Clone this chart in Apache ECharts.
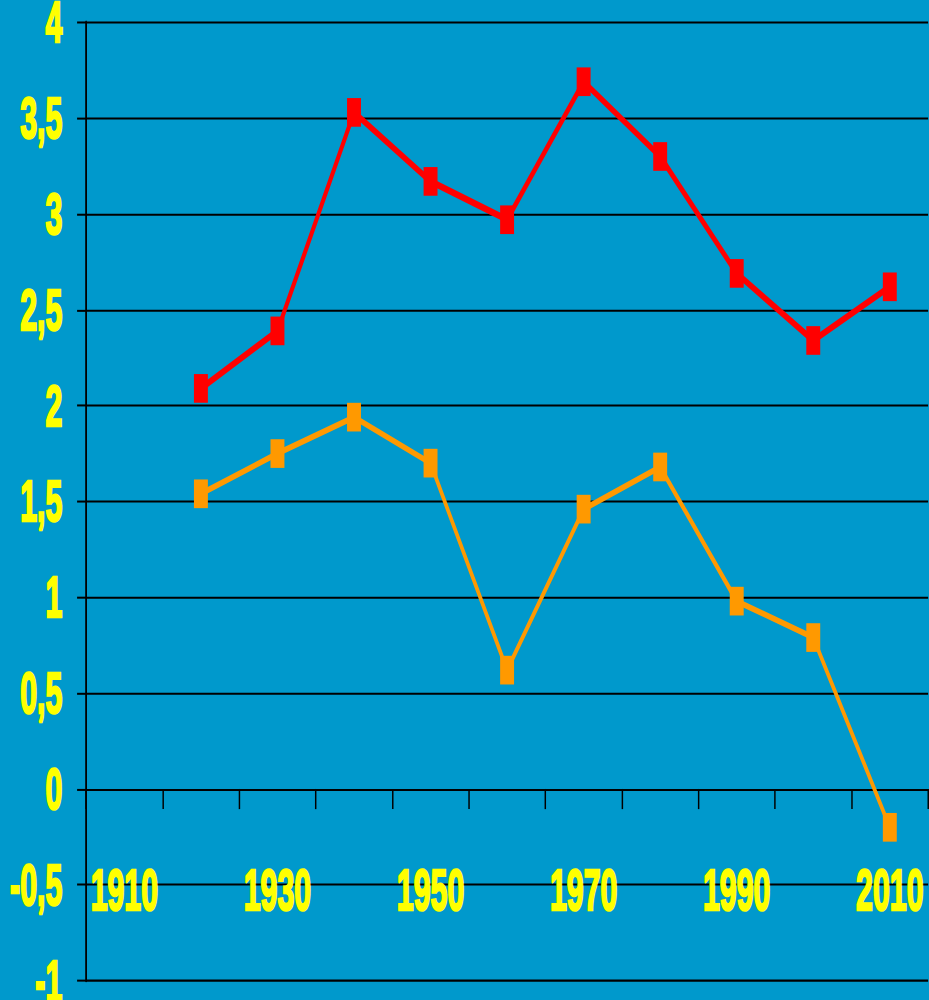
<!DOCTYPE html>
<html>
<head>
<meta charset="utf-8">
<script src="https://cdn.jsdelivr.net/npm/echarts@6/dist/echarts.min.js"></script>
<style>
  html, body { margin: 0; padding: 0; background: #0099CC; overflow: hidden; width: 929px; height: 1000px; }
  #chart { width: 1133px; height: 645px; transform-origin: 0 0; transform: scale(0.82, 1.5504); }
</style>
</head>
<body>
<div id="chart"></div>
<script>
// Data
var categories = ['1910', '1920', '1930', '1940', '1950', '1960', '1970', '1980', '1990', '2000', '2010'];
var redValues = [null, 2.09, 2.39, 3.53, 3.17, 2.97, 3.69, 3.30, 2.69, 2.34, 2.62];
var orangeValues = [null, 1.54, 1.75, 1.94, 1.70, 0.62, 1.46, 1.68, 0.98, 0.79, -0.20];
var yTicks = { min: -1, max: 4, interval: 0.5 };

var labelFont = '"Liberation Sans", Arial, sans-serif';

var chart = echarts.init(document.getElementById('chart'), null, { renderer: 'svg' });
chart.setOption({
  backgroundColor: '#0099CC',
  animation: false,
  grid: { left: 105, right: 1.2, top: 14.4, bottom: 12.5, containLabel: false, outerBoundsMode: 'none' },
  xAxis: {
    type: 'category',
    data: categories,
    boundaryGap: true,
    axisLine: { onZero: true, lineStyle: { color: '#000', width: 1.3 } },
    axisTick: { show: true, interval: 0, length: 13, lineStyle: { color: '#000', width: 1.8 } },
    axisLabel: {
      interval: 1,
      margin: -58.7,
      verticalAlign: 'middle',
      color: '#FFFF00',
      textBorderColor: '#FFFF00',
      textBorderWidth: 1.6,
      fontFamily: labelFont,
      fontWeight: 'bold',
      fontSize: 37
    },
    splitLine: { show: false }
  },
  yAxis: {
    type: 'value',
    min: yTicks.min,
    max: yTicks.max,
    interval: yTicks.interval,
    axisLine: { show: true, onZero: false, lineStyle: { color: '#000', width: 2.2 } },
    axisTick: { show: true, length: 11, lineStyle: { color: '#000', width: 1.3 } },
    axisLabel: {
      margin: 29,
      color: '#FFFF00',
      textBorderColor: '#FFFF00',
      textBorderWidth: 1.6,
      fontFamily: labelFont,
      fontWeight: 'bold',
      fontSize: 37,
      formatter: function (v) { return String(v).replace('.', ','); }
    },
    splitLine: { show: true, lineStyle: { color: '#000', width: 1.3 } }
  },
  series: [
    {
      type: 'line',
      data: orangeValues,
      symbol: 'rect',
      symbolSize: [17, 18.5],
      showAllSymbol: true,
      lineStyle: { color: '#FF9900', width: 4 },
      itemStyle: { color: '#FF9900' },
      z: 3
    },
    {
      type: 'line',
      data: redValues,
      symbol: 'rect',
      symbolSize: [17, 18.5],
      showAllSymbol: true,
      lineStyle: { color: '#FF0000', width: 4.5 },
      itemStyle: { color: '#FF0000' },
      z: 4
    }
  ]
});
</script>
</body>
</html>
